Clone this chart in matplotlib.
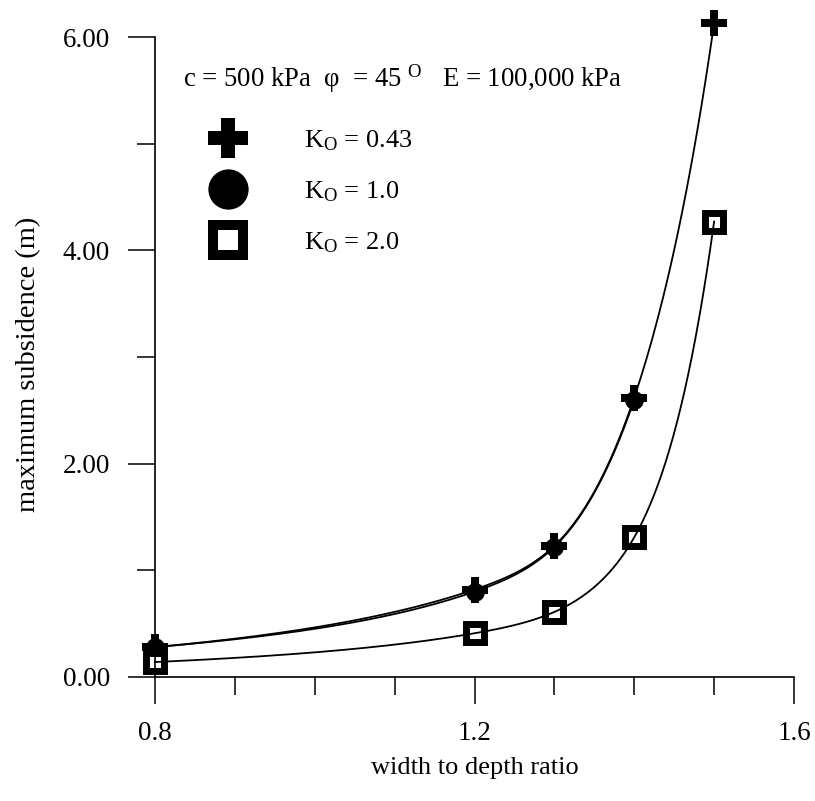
import numpy as np
import matplotlib
matplotlib.use("Agg")
import matplotlib.pyplot as plt
from matplotlib.lines import Line2D

plt.rcParams['font.family'] = ['Liberation Serif', 'DejaVu Serif']
plt.rcParams['mathtext.fontset'] = 'custom'
plt.rcParams['mathtext.rm'] = 'Liberation Serif'
plt.rcParams['mathtext.it'] = 'Liberation Serif:italic'

# width to depth ratio vs maximum subsidence (m)
ratio_plus = [0.8, 1.2, 1.3, 1.4, 1.5]
subs_plus = [0.28, 0.82, 1.23, 2.62, 6.13]      # Ko = 0.43

ratio_circ = [0.8, 1.2, 1.3, 1.4]
subs_circ = [0.28, 0.80, 1.22, 2.60]            # Ko = 1.0

ratio_sq = [0.8, 1.2, 1.3, 1.4, 1.5]
subs_sq = [0.14, 0.41, 0.61, 1.31, 4.27]        # Ko = 2.0

labels = [r"K$_{\mathrm{O}}$ = 0.43", r"K$_{\mathrm{O}}$ = 1.0", r"K$_{\mathrm{O}}$ = 2.0"]


#natural cubic spline through the points, done on log(y) so it bends up like the original
def smoothCurve(xs, ys, n=300):
    x = np.array(xs, dtype=float)
    y = np.log(np.array(ys, dtype=float))
    npts = len(x)
    h = np.diff(x)
    A = np.zeros((npts, npts))
    b = np.zeros(npts)
    A[0, 0] = 1
    A[-1, -1] = 1
    for i in range(1, npts - 1):
        A[i, i - 1] = h[i - 1] / 6
        A[i, i] = (h[i - 1] + h[i]) / 3
        A[i, i + 1] = h[i] / 6
        b[i] = (y[i + 1] - y[i]) / h[i] - (y[i] - y[i - 1]) / h[i - 1]
    M = np.linalg.solve(A, b)
    t = np.linspace(x[0], x[-1], n)
    idx = np.clip(np.searchsorted(x, t) - 1, 0, npts - 2)
    x0, x1 = x[idx], x[idx + 1]
    hh = x1 - x0
    s = (M[idx] * (x1 - t) ** 3 / (6 * hh) + M[idx + 1] * (t - x0) ** 3 / (6 * hh)
         + (y[idx] / hh - M[idx] * hh / 6) * (x1 - t)
         + (y[idx + 1] / hh - M[idx + 1] * hh / 6) * (t - x0))
    return t, np.exp(s)


fig = plt.figure(figsize=(8.15, 8.01), dpi=100)
ax = fig.add_axes([155 / 815, 124 / 801, 639 / 815, 640 / 801])

# markers
ax.plot(ratio_plus, subs_plus, linestyle="none", marker="P", markersize=18.5,
        color="black", markeredgewidth=0, clip_on=False, zorder=3)
ax.plot(ratio_circ, subs_circ, linestyle="none", marker="o", markersize=13.5,
        color="black", markeredgewidth=0, clip_on=False, zorder=3)
ax.plot(ratio_sq, subs_sq, linestyle="none", marker="s", markersize=13,
        markerfacecolor="white", markeredgecolor="black", markeredgewidth=5,
        clip_on=False, zorder=3)

# smooth curves, drawn over the markers like the original
for xs, ys in [(ratio_plus, subs_plus), (ratio_circ, subs_circ), (ratio_sq, subs_sq)]:
    cx, cy = smoothCurve(xs, ys)
    ax.plot(cx, cy, color="black", linewidth=1.3, clip_on=False, zorder=4)

ax.set_xlim(0.8, 1.6)
ax.set_ylim(0, 6)
ax.spines['top'].set_visible(False)
ax.spines['right'].set_visible(False)
ax.spines['left'].set_linewidth(1.2)
ax.spines['bottom'].set_linewidth(1.2)
ax.spines['left'].set_zorder(5)
ax.spines['bottom'].set_zorder(5)

ax.set_xticks([0.8, 1.2, 1.6])
ax.set_xticklabels(["0.8", "1.2", "1.6"])
ax.set_xticks([0.9, 1.0, 1.1, 1.3, 1.4, 1.5], minor=True)
ax.set_yticks([0, 2, 4, 6])
ax.set_yticklabels(["0.00", "2.00", "4.00", "6.00"])
ax.set_yticks([1, 3, 5], minor=True)
ax.tick_params(axis="both", which="major", direction="out", length=19.5, width=1.1,
               labelsize=19.5, colors="black")
ax.tick_params(axis="both", which="minor", direction="out", length=13, width=1.1)
ax.tick_params(axis="y", which="major", pad=13)
ax.tick_params(axis="x", which="major", pad=12)

ax.set_xlabel("width to depth ratio", fontsize=19, labelpad=8)
ax.set_ylabel("maximum subsidence (m)", fontsize=20.5)
ax.yaxis.set_label_coords(-0.178, 0.489)

ax.text(0.044, 0.922, r"c = 500 kPa  φ  = 45 $^{\mathrm{O}}$   E = 100,000 kPa",
        transform=ax.transAxes, fontsize=19.3, va="baseline", ha="left")

handles = [
    Line2D([], [], linestyle="none", marker="P", markersize=29, color="black", markeredgewidth=0),
    Line2D([], [], linestyle="none", marker="o", markersize=29, color="black", markeredgewidth=0),
    Line2D([], [], linestyle="none", marker="s", markersize=21.5, markerfacecolor="white",
           markeredgecolor="black", markeredgewidth=7.2),
]
ax.legend(handles, labels, loc="upper left", bbox_to_anchor=(0.083, 0.857), frameon=False,
          fontsize=19, handlelength=1.5, handletextpad=2.13, labelspacing=1.0, borderpad=0,
          borderaxespad=0)

fig.savefig("out.png", dpi=100)
